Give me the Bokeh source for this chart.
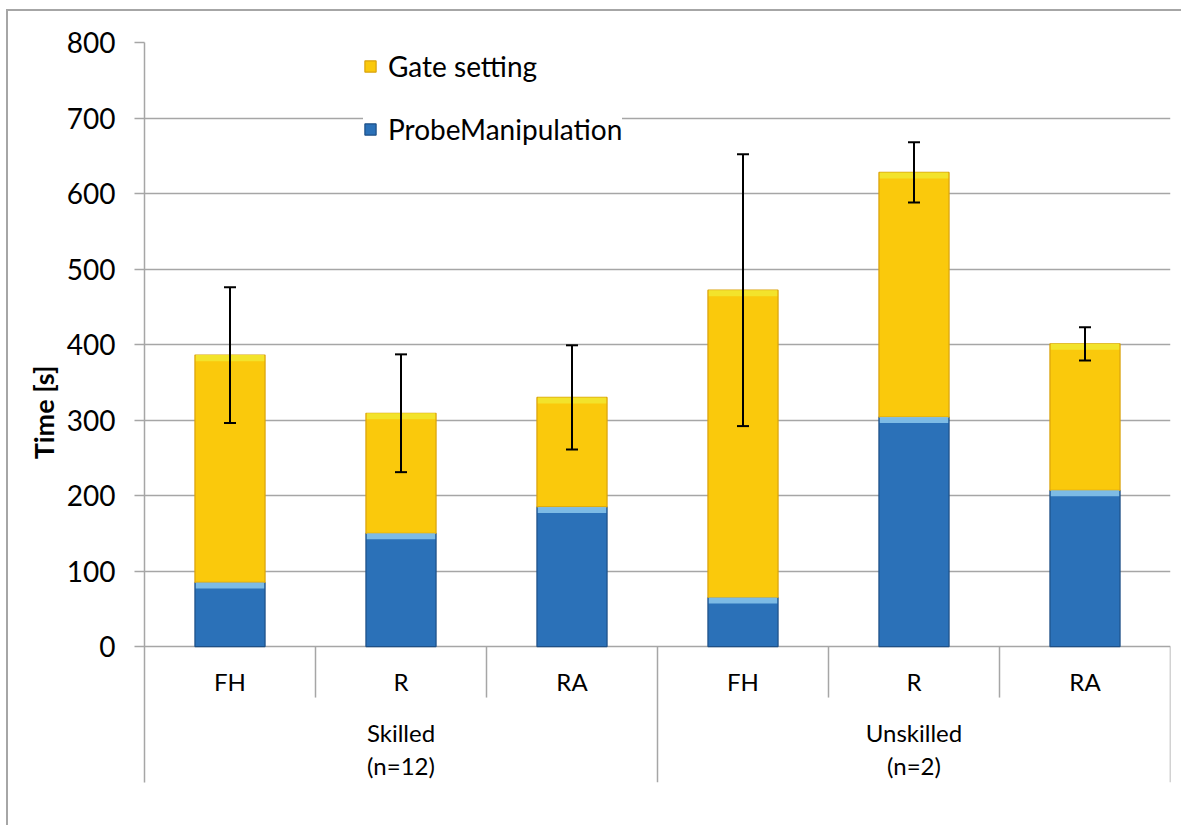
from bokeh.plotting import figure
from bokeh.models import (ColumnDataSource, FixedTicker, Legend, LegendItem,
                          Whisker, TeeHead, Range1d)
from bokeh.core.properties import value
from bokeh.embed import file_html
from bokeh.resources import INLINE

# Task-time breakdown per method and operator group
methods = ["FH", "R", "RA", "FH", "R", "RA"]
groups = ["Skilled", "Unskilled"]
group_sizes = ["(n=12)", "(n=2)"]
probe_manipulation = [85, 150, 185, 65, 304, 207]
gate_setting = [301, 159, 145, 407, 324, 194]
total_sd = [90, 78, 69, 180, 40, 22]
y_ticks = [0, 100, 200, 300, 400, 500, 600, 700, 800]

FONT = "Lato"
GRID = "#a6a6a6"
BLUE, BLUE_EDGE, BLUE_HI = "#2b71b8", "#1d4f86", "#86c3ea"
GOLD, GOLD_EDGE, GOLD_HI = "#fac90c", "#d9a20c", "#f3e32b"

slots = [i + 0.5 for i in range(len(methods))]
totals = [a + b for a, b in zip(probe_manipulation, gate_setting)]
hl = 8  # height of the bevel highlight band, in axis units

src = ColumnDataSource(dict(
    x=slots,
    probe=probe_manipulation,
    total=totals,
    probe_hl=[v - hl for v in probe_manipulation],
    total_hl=[v - hl for v in totals],
    upper=[t + s for t, s in zip(totals, total_sd)],
    lower=[t - s for t, s in zip(totals, total_sd)],
))

p = figure(width=1175, height=816, output_backend="svg", toolbar_location=None,
           x_range=Range1d(0, len(methods)), y_range=Range1d(-180, 800),
           min_border_left=136, min_border_right=13, min_border_top=31,
           min_border_bottom=45)
# chart-area border on the left and top edges
p.margin = (9, 0, 0, 6)
p.styles = {"border-left": "2px solid #a6a6a6", "border-top": "2px solid #a6a6a6"}
p.outline_line_color = None
p.background_fill_color = "white"
p.border_fill_color = "white"
p.xaxis.visible = False
p.xgrid.visible = False

p.ygrid.ticker = FixedTicker(ticks=y_ticks)
p.ygrid.grid_line_color = GRID
p.ygrid.grid_line_width = 1.5

ax = p.yaxis[0]
ax.ticker = FixedTicker(ticks=y_ticks)
ax.axis_line_color = GRID
ax.axis_line_width = 1.5
ax.major_tick_line_color = GRID
ax.major_tick_line_width = 1.5
ax.major_tick_out = 10
ax.major_tick_in = 0
ax.minor_tick_line_color = None
ax.major_label_text_font = FONT
ax.major_label_text_font_size = "28px"
ax.major_label_text_color = "black"
ax.major_label_standoff = 19
ax.axis_label = "Time [s]"
ax.axis_label_text_font = FONT
ax.axis_label_text_font_style = "bold"
ax.axis_label_text_font_size = "27px"
ax.axis_label_text_color = "black"
ax.axis_label_standoff = 4

# stacked bars
probe_r = p.vbar(x="x", bottom=0, top="probe", width=0.41, source=src,
                 fill_color=BLUE, line_color=BLUE_EDGE, line_width=1.2)
gate_r = p.vbar(x="x", bottom="probe", top="total", width=0.41, source=src,
                fill_color=GOLD, line_color=GOLD_EDGE, line_width=1.2)
# bevel highlights along the top of each segment
p.vbar(x="x", bottom="probe_hl", top="probe", width=0.40, source=src,
       fill_color=BLUE_HI, fill_alpha=0.9, line_color=None)
p.vbar(x="x", bottom="total_hl", top="total", width=0.40, source=src,
       fill_color=GOLD_HI, line_color=None)

# error bars on the stacked totals
p.add_layout(Whisker(base="x", upper="upper", lower="lower", source=src,
                     level="overlay", line_color="black", line_width=2,
                     upper_head=TeeHead(size=12, line_width=2, line_color="black"),
                     lower_head=TeeHead(size=12, line_width=2, line_color="black")))

# two-level category axis below the zero line
p.segment(x0=[1, 2, 4, 5], y0=0, x1=[1, 2, 4, 5], y1=-67.5,
          line_color=GRID, line_width=1.5)
p.segment(x0=[3, 6], y0=0, x1=[3, 6], y1=-180,
          line_color=GRID, line_width=1.5)
p.text(x=slots, y=-46, text=methods, text_align="center", text_baseline="middle",
       text_font=value(FONT), text_font_size="24px", text_color="black")
group_x = [1.5, 4.5]
p.text(x=group_x, y=-114, text=groups, text_align="center", text_baseline="middle",
       text_font=value(FONT), text_font_size="24px", text_color="black")
p.text(x=group_x, y=-157, text=group_sizes, text_align="center", text_baseline="middle",
       text_font=value(FONT), text_font_size="24px", text_color="black")

legend = Legend(items=[LegendItem(label="Gate setting", renderers=[gate_r]),
                       LegendItem(label="ProbeManipulation", renderers=[probe_r])],
                location=(219, 636), orientation="vertical",
                glyph_width=14, glyph_height=14, label_standoff=11,
                label_height=34, spacing=29, padding=12, margin=0,
                label_text_font=FONT, label_text_font_size="28px",
                label_text_color="black",
                background_fill_color="white", background_fill_alpha=1,
                border_line_color=None)
p.add_layout(legend)

open("out.html", "w").write(file_html(p, INLINE))
